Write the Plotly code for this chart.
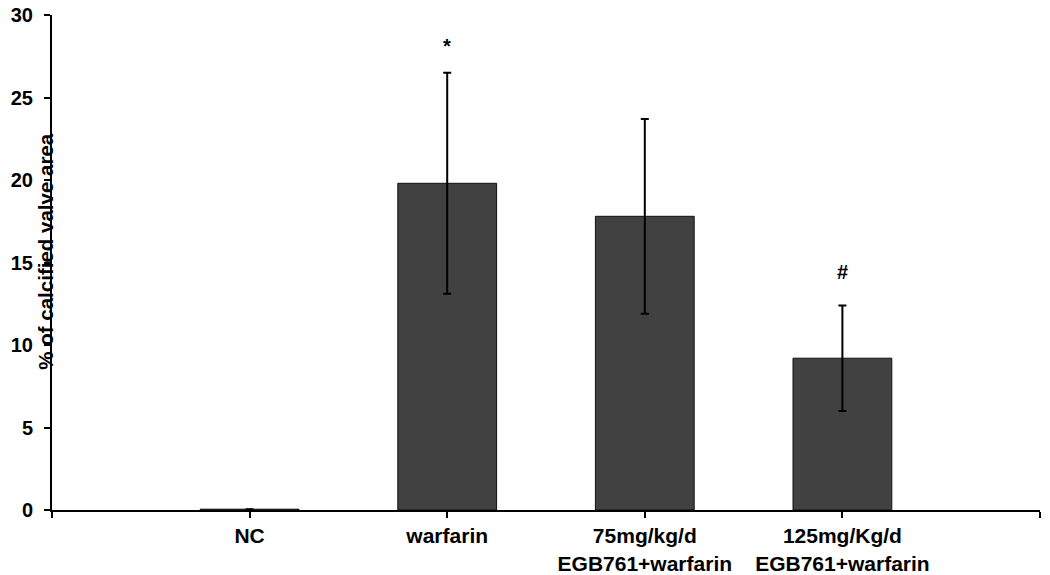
import plotly.graph_objects as go

categories = ["NC", "warfarin", "75mg/kg/d<br>EGB761+warfarin", "125mg/Kg/d<br>EGB761+warfarin"]
values = [0.05, 19.8, 17.8, 9.2]
errors = [0.0, 6.7, 5.9, 3.2]
marks = ["", "*", "", "#"]
y_ticks = [0, 5, 10, 15, 20, 25, 30]

FONT = "Liberation Sans, Arial, sans-serif"
MARK_GAP = {"*": 1.6, "#": 2.0}
pos = list(range(len(categories)))

fig = go.Figure()
fig.add_trace(go.Bar(
    x=pos, y=values, width=0.5,
    marker=dict(color="#414141", line=dict(color="#111111", width=1)),
    error_y=dict(type="data", array=errors, visible=True,
                 color="black", thickness=2, width=4),
    showlegend=False,
))

for p, v, e, m in zip(pos, values, errors, marks):
    if m:
        fig.add_annotation(x=p, y=v + e + MARK_GAP[m], text="<b>" + m + "</b>",
                           showarrow=False, xref="x", yref="y",
                           font=dict(family=FONT, size=20, color="black"),
                           yanchor="middle")

fig.add_annotation(text="<b>% of calcified valve area</b>", textangle=-90,
                   xref="paper", yref="paper", x=-0.006, y=0.522,
                   xanchor="center", yanchor="middle", showarrow=False,
                   font=dict(family=FONT, size=20.5, color="black"))

fig.update_layout(
    width=1050, height=575,
    margin=dict(l=52, r=10, t=15, b=65),
    paper_bgcolor="white", plot_bgcolor="white",
    font=dict(family=FONT, size=20, color="black"),
    xaxis=dict(range=[-1, 4], tickmode="array",
               tickvals=[-1] + pos + [4],
               ticktext=[""] + ["<b>" + c.replace("<br>", "</b><br><b>") + "</b>" for c in categories] + [""],
               tickfont=dict(family=FONT, size=21, color="black"),
               showline=True, linecolor="black", linewidth=2,
               ticks="outside", ticklen=6, tickwidth=2, tickcolor="black",
               showgrid=False, zeroline=False, fixedrange=True, automargin=False),
    yaxis=dict(range=[0, 30], tickmode="array", tickvals=y_ticks,
               ticktext=["<b>%d</b>" % t for t in y_ticks],
               showline=True, linecolor="black", linewidth=2,
               ticks="outside", ticklen=6, tickwidth=2, tickcolor="black",
               ticklabelstandoff=7,
               showgrid=False, zeroline=False, automargin=False),
)

fig.write_html("out.html", config={"displayModeBar": False},
               post_script="document.body.style.margin='0';")
